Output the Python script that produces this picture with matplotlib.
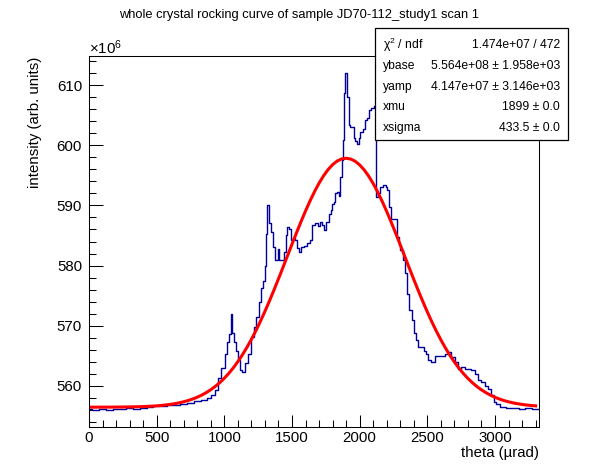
import numpy as np
import matplotlib
matplotlib.use("Agg")
import matplotlib.pyplot as plt
import matplotlib.patches as patches
from matplotlib.ticker import MultipleLocator

plt.rcParams['font.family'] = ['Liberation Sans', 'DejaVu Sans']
plt.rcParams['mathtext.fontset'] = 'custom'
plt.rcParams['mathtext.rm'] = 'Liberation Sans'
plt.rcParams['mathtext.it'] = 'Liberation Sans:italic'

# histogram (theta in urad, intensity in 1e6 arb. units)
theta = [0, 50, 100, 150, 200, 250, 300, 350, 400, 450, 500, 550, 600, 650, 700,
         750, 800, 850, 890, 920, 940, 965, 990, 1013, 1025, 1040, 1052, 1062,
         1075, 1092, 1107, 1124, 1140, 1161, 1186, 1210, 1223, 1247, 1260, 1277,
         1292, 1304, 1314, 1321, 1334, 1351, 1363, 1383, 1395, 1402, 1412, 1430,
         1445, 1460, 1469, 1487, 1501, 1515, 1531, 1545, 1555, 1580, 1600, 1617,
         1642, 1659, 1684, 1703, 1716, 1730, 1741, 1765, 1780, 1790, 1802, 1814,
         1827, 1839, 1850, 1864, 1876, 1881, 1888, 1901, 1913, 1925, 1937, 1950,
         1962, 1975, 1987, 2000, 2012, 2036, 2049, 2061, 2073, 2098, 2115, 2130,
         2145, 2160, 2184, 2200, 2209, 2221, 2246, 2266, 2283, 2295, 2308, 2325,
         2339, 2357, 2374, 2394, 2406, 2423, 2443, 2468, 2480, 2493, 2517, 2542,
         2566, 2591, 2616, 2641, 2665, 2690, 2715, 2739, 2764, 2789, 2813, 2838,
         2863, 2887, 2911, 2936, 2961, 2981, 2998, 3022, 3059, 3109, 3150, 3200,
         3250, 3300, 3330]
intensity_e6 = [556.1, 556.0, 556.1, 556.0, 556.1, 556.1, 556.2, 556.1, 556.2,
                556.5, 556.6, 556.6, 556.8, 556.8, 557.0, 557.1, 557.4, 557.6,
                557.9, 558.5, 559.3, 561.3, 563.0, 565.2, 567.3, 568.6, 572.0,
                568.7, 567.3, 565.8, 564.2, 562.6, 562.3, 563.7, 565.3, 568.1,
                569.8, 571.4, 573.9, 576.2, 577.5, 580.0, 585.3, 590.0, 587.0,
                585.6, 583.1, 580.9, 581.0, 582.8, 580.9, 581.0, 582.3, 585.0,
                586.4, 586.1, 584.2, 584.6, 584.2, 583.0, 582.3, 583.1, 583.3,
                583.7, 584.2, 586.7, 587.0, 586.5, 587.3, 586.7, 585.9, 587.3,
                588.5, 589.2, 590.3, 590.6, 592.0, 592.2, 591.5, 594.8, 597.5,
                600.9, 608.7, 612.0, 608.1, 603.4, 603.0, 603.1, 601.2, 600.7,
                600.3, 601.3, 602.3, 602.8, 604.2, 604.5, 605.9, 606.2, 606.5,
                591.4, 592.0, 593.1, 593.4, 593.0, 592.6, 589.8, 587.8, 587.8,
                584.8, 583.5, 582.6, 580.9, 578.7, 575.3, 572.6, 570.9, 568.7,
                567.6, 566.4, 566.5, 565.8, 565.3, 564.2, 563.9, 564.9, 565.0,
                564.9, 565.3, 565.6, 564.8, 563.9, 562.8, 563.1, 562.7, 562.8,
                562.6, 562.0, 561.0, 560.6, 560.0, 559.5, 558.4, 557.3, 557.0,
                556.4, 556.2, 556.2, 556.1, 556.2, 556.1, 556.1]

# fit results from the stats box
ybase = 5.564e+08
yamp = 4.147e+07
xmu = 1899.0
xsigma = 433.5

stat_names = ["χ$^{2}$ / ndf", "ybase", "yamp", "xmu", "xsigma"]
stat_values = ["1.474e+07 / 472", "5.564e+08 ± 1.958e+03",
               "4.147e+07 ± 3.146e+03", "1899 ± 0.0", "433.5 ± 0.0"]

W, H = 598, 474
fig = plt.figure(figsize=(W / 100, H / 100), dpi=100)
ax = fig.add_axes([89 / W, 1 - 427 / H, 450 / W, 371 / H])

ax.plot(theta, intensity_e6, drawstyle='steps-mid', color='#000099', lw=1.0)

xf = np.linspace(0, 3300, 100)
yf = (ybase + yamp * np.exp(-0.5 * ((xf - xmu) / xsigma) ** 2)) / 1e6
ax.plot(xf, yf, color='#ff0000', lw=2.2)

ax.set_xlim(0, 3325)
ax.set_ylim(553.1, 614.9)
ax.xaxis.set_major_locator(MultipleLocator(500))
ax.xaxis.set_minor_locator(MultipleLocator(100))
ax.yaxis.set_major_locator(MultipleLocator(10))
ax.yaxis.set_minor_locator(MultipleLocator(2))
ax.tick_params(axis='both', which='both', direction='in', top=False, right=False,
               labelsize=10.8, width=0.75)
ax.tick_params(axis='x', which='major', length=8.4, pad=3)
ax.tick_params(axis='x', which='minor', length=4.8)
ax.tick_params(axis='y', which='major', length=10, pad=5)
ax.tick_params(axis='y', which='minor', length=5)
for sp in ax.spines.values():
    sp.set_linewidth(0.75)

fig.text(89 / W, 1 - 48 / H, "$\\times10^{6}$", fontsize=10.8, ha='left', va='center')
fig.text(0.5, 1 - 15 / H, "whole crystal rocking curve of sample JD70-112_study1 scan 1",
         fontsize=9.3, ha='center', va='center')
fig.text(35 / W, 1 - 57 / H, "intensity (arb. units)", rotation=90, fontsize=10.8,
         ha='center', va='top')
fig.text(539 / W, 1 - 453 / H, "theta (µrad)", fontsize=10.8, ha='right', va='center')

# stats box
bx0, bx1, by0, by1 = 375, 568, 28, 140
box = patches.Rectangle((bx0 / W, 1 - by1 / H), (bx1 - bx0) / W, (by1 - by0) / H,
                        transform=fig.transFigure, facecolor='white',
                        edgecolor='black', lw=0.9, zorder=5)
fig.patches.append(box)
rows_y = [45, 66, 87, 107, 128]
for name, val, ry in zip(stat_names, stat_values, rows_y):
    fig.text(383 / W, 1 - ry / H, name, fontsize=8.7, ha='left', va='center', zorder=6)
    fig.text(560 / W, 1 - ry / H, val, fontsize=8.7, ha='right', va='center', zorder=6)

fig.savefig("out.png", dpi=100)
